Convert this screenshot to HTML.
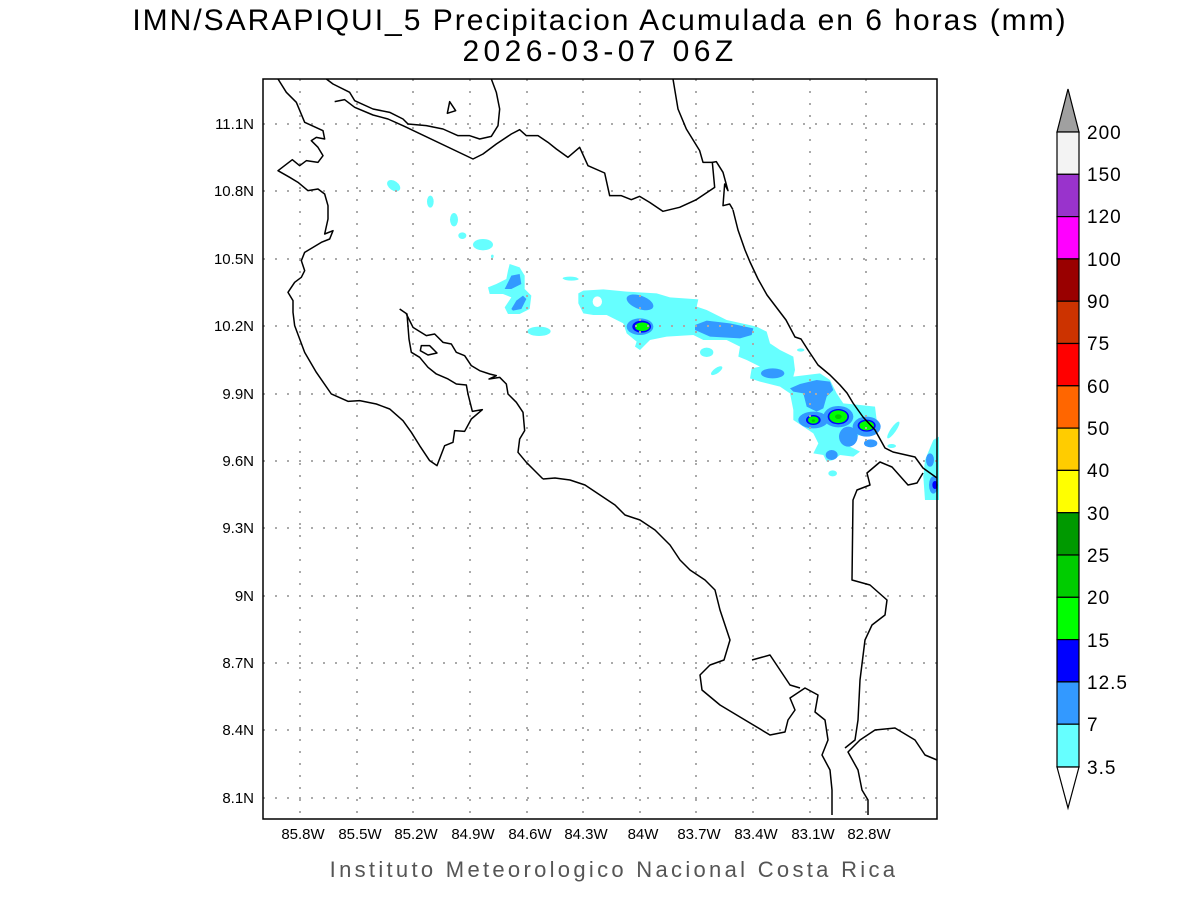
<!DOCTYPE html>
<html><head><meta charset="utf-8"><style>
html,body{margin:0;padding:0;background:#fff;}
svg{display:block;font-family:"Liberation Sans",sans-serif;}
</style></head><body>
<svg width="1200" height="900" viewBox="0 0 1200 900">
<rect width="1200" height="900" fill="#fff"/>
<text x="600" y="30" font-size="30" text-anchor="middle" fill="#000" letter-spacing="2">IMN/SARAPIQUI_5 Precipitacion Acumulada en 6 horas (mm)</text>
<text x="600" y="61" font-size="30" text-anchor="middle" fill="#000" letter-spacing="4.4">2026-03-07 06Z</text>

<g transform="translate(560,260) scale(0.33333)">
<polygon fill="#66ffff" points="55,100 70,92 130,88 200,95 290,100 330,112 415,118 410,140 440,150 500,180 590,200 620,215 630,250 660,270 700,290 705,330 700,350 740,345 780,340 810,360 830,400 850,430 900,435 945,440 950,480 955,500 935,520 900,520 870,560 900,575 880,590 840,585 820,600 800,605 790,585 760,580 775,550 760,520 730,500 700,480 700,450 690,400 660,380 600,365 570,355 575,325 600,320 560,300 535,290 540,260 500,240 430,240 400,225 320,230 270,240 240,270 225,260 230,245 200,220 190,190 140,165 100,165 70,160 55,130"/>
<ellipse cx="112" cy="125" rx="14" ry="16" fill="#fff"/>
<ellipse cx="30" cy="55" rx="22" ry="5" fill="#66ffff"/>
<ellipse cx="440" cy="277" rx="20" ry="14" fill="#66ffff"/>
<ellipse cx="470" cy="332" rx="20" ry="8" fill="#66ffff" transform="rotate(-35 470 332)"/>
<ellipse cx="722" cy="270" rx="11" ry="5" fill="#66ffff"/>
<ellipse cx="1000" cy="510" rx="8" ry="30" fill="#66ffff" transform="rotate(35 1000 510)"/>
<ellipse cx="995" cy="558" rx="13" ry="6" fill="#66ffff"/>
<ellipse cx="818" cy="640" rx="13" ry="9" fill="#66ffff"/>
<polygon fill="#66ffff" points="1095,600 1120,540 1137,530 1137,720 1095,720 1090,650"/>
<g fill="#3399ff">
<ellipse cx="240" cy="127" rx="42" ry="20" transform="rotate(20 240 127)"/>
<ellipse cx="240" cy="200" rx="40" ry="25"/>
<polygon points="405,195 440,182 510,190 580,205 575,225 540,235 450,230 405,210"/>
<ellipse cx="638" cy="340" rx="35" ry="15"/>
<polygon points="690,385 720,372 770,360 810,365 820,390 800,410 790,445 770,455 740,440 730,400 700,395"/>
<ellipse cx="760" cy="480" rx="45" ry="25"/>
<ellipse cx="835" cy="470" rx="45" ry="32"/>
<ellipse cx="920" cy="500" rx="42" ry="30"/>
<ellipse cx="865" cy="530" rx="28" ry="30"/>
<ellipse cx="932" cy="550" rx="20" ry="12"/>
<ellipse cx="815" cy="585" rx="18" ry="15"/>
<ellipse cx="1110" cy="600" rx="12" ry="20"/>
<ellipse cx="1120" cy="675" rx="13" ry="26"/>
</g>
<g fill="#0000ff">
<ellipse cx="245" cy="200" rx="28" ry="18"/>
<ellipse cx="760" cy="480" rx="22" ry="15"/>
<ellipse cx="835" cy="470" rx="32" ry="23"/>
<ellipse cx="920" cy="497" rx="27" ry="18"/>
<ellipse cx="1125" cy="675" rx="8" ry="12"/>
</g>
<g fill="#00ff00">
<ellipse cx="247" cy="200" rx="22" ry="13"/>
<ellipse cx="760" cy="480" rx="16" ry="11"/>
<ellipse cx="835" cy="470" rx="27" ry="19"/>
<ellipse cx="920" cy="497" rx="22" ry="14"/>
</g>
<ellipse cx="835" cy="470" rx="10" ry="7" fill="#00cc00"/>
<ellipse cx="760" cy="482" rx="5" ry="4" fill="#00cc00"/>
</g>

<g transform="translate(263,79) scale(0.33333)" fill="#66ffff">
<ellipse cx="392" cy="320" rx="22" ry="14" transform="rotate(35 392 320)"/>
<ellipse cx="502" cy="368" rx="10" ry="18"/>
<ellipse cx="573" cy="422" rx="12" ry="20"/>
<ellipse cx="598" cy="470" rx="12" ry="10"/>
<ellipse cx="660" cy="497" rx="30" ry="17"/>
<ellipse cx="688" cy="532" rx="4" ry="5"/>
<polygon points="740,555 770,565 785,590 785,630 805,650 800,690 770,705 735,705 725,685 745,655 720,645 680,645 675,625 700,615 730,600 735,575"/>
<ellipse cx="925" cy="600" rx="22" ry="5"/>
<ellipse cx="828" cy="757" rx="35" ry="14"/>
<polygon fill="#3399ff" points="725,630 745,590 770,585 775,615 745,630"/>
<polygon fill="#3399ff" points="745,690 760,665 780,650 790,660 775,690 750,695"/>
</g>

<g stroke="#aaa" stroke-width="2" stroke-dasharray="2,10">
<line x1="300" y1="79" x2="300" y2="819"/><line x1="357" y1="79" x2="357" y2="819"/><line x1="413" y1="79" x2="413" y2="819"/><line x1="470" y1="79" x2="470" y2="819"/><line x1="527" y1="79" x2="527" y2="819"/><line x1="583" y1="79" x2="583" y2="819"/><line x1="640" y1="79" x2="640" y2="819"/><line x1="696" y1="79" x2="696" y2="819"/><line x1="753" y1="79" x2="753" y2="819"/><line x1="810" y1="79" x2="810" y2="819"/><line x1="866" y1="79" x2="866" y2="819"/>
<line x1="263" y1="124" x2="937" y2="124"/><line x1="263" y1="191" x2="937" y2="191"/><line x1="263" y1="259" x2="937" y2="259"/><line x1="263" y1="326" x2="937" y2="326"/><line x1="263" y1="394" x2="937" y2="394"/><line x1="263" y1="461" x2="937" y2="461"/><line x1="263" y1="528" x2="937" y2="528"/><line x1="263" y1="596" x2="937" y2="596"/><line x1="263" y1="663" x2="937" y2="663"/><line x1="263" y1="730" x2="937" y2="730"/><line x1="263" y1="798" x2="937" y2="798"/>
</g>

<g transform="translate(263,79) scale(0.33333)" fill="none" stroke="#000" stroke-width="4.5" stroke-linejoin="round">
<polyline points="45,0 70,40 100,70 125,130 180,155 185,180 160,175 145,185 165,205 180,230 165,250 130,245 110,260 88,242 45,275 80,295 105,310 135,335 165,330 185,345 195,380 195,420 185,465 210,455 200,480 175,490 150,505 125,520 115,545 125,575 115,595 95,610 75,640 90,665 90,700 95,740 110,780 125,820 160,880 205,945 255,967 290,965 340,975 380,990 420,1025 445,1060 470,1100 500,1145 522,1160 545,1100 570,1090 575,1055 605,1057 625,1020 658,992 628,997 615,945 610,918 580,915 555,900 520,885 495,865 470,835 445,820 438,780 432,705 410,690"/>
<polyline points="430,705 450,745 490,770 515,765 540,790 565,795 580,820 605,830 625,860 650,875 680,885 700,890 678,900 710,895 730,915 735,945 760,970 780,1000 785,1055 770,1080 765,1120 790,1150 810,1170 840,1200"/>
<polygon points="475,800 500,800 522,822 495,828 472,815"/>
<polyline points="190,0 210,15 260,40 275,65 330,90 380,100 420,120 435,135 490,140 540,150 585,170 620,170 650,180 685,172 705,140 710,90 700,40 685,0"/>
<polygon points="560,68 578,95 553,103"/>
<polyline points="215,68 245,62 275,85 330,108 375,120 420,140 630,240 660,225 700,195 745,165 770,152 790,170 825,170 855,190 880,210 915,235 950,205 975,260 1025,282 1040,350 1075,350 1105,362 1130,352 1160,370 1200,397 1250,385 1300,362 1355,325 1348,250 1360,248 1380,280 1395,335 1385,315 1380,380 1400,375 1410,392"/>
<polyline points="1230,0 1245,90 1270,150 1310,215 1320,250 1350,250"/>
</g>
<g fill="none" stroke="#000" stroke-width="1.5" stroke-linejoin="round">
<polyline points="733,210 738,230 745,250 750,262 758,279 767,295 786,320 795,337 801,339 808,350 818,365 830,375 840,385 847,393 853,403 863,417 875,430 885,448 893,452 915,457 923,468 937,478"/>
<polyline points="923,473 917,483 908,485 892,467 880,462 867,473 870,485 857,490 853,500 852,580 870,585 887,600 885,615 872,625 865,640 860,680 858,720 855,740 845,748"/>
<polyline points="543,479 555,478 570,480 585,485 600,495 615,505 625,515 640,520 655,530 670,545 680,560 690,570 705,580 715,590 720,610 725,625 730,640 724,660 710,665 700,675 702,690 720,705 745,720 770,735 785,732 788,720 795,710 790,698 805,688 818,695 815,712 825,720 828,740 822,755 830,770 832,790 832,815"/>
<polyline points="752,660 770,655 780,670 790,685 800,688"/>
<polyline points="868,815 868,800 862,790 858,770 848,752 860,740 875,730 895,728 915,740 925,755 937,760"/>
</g>

<rect x="263" y="79" width="674" height="740" fill="none" stroke="#000" stroke-width="1.5"/>

<g font-size="15" fill="#000">
<g text-anchor="end">
<text x="254" y="129">11.1N</text><text x="254" y="196">10.8N</text><text x="254" y="264">10.5N</text><text x="254" y="331">10.2N</text><text x="254" y="399">9.9N</text><text x="254" y="466">9.6N</text><text x="254" y="533">9.3N</text><text x="254" y="601">9N</text><text x="254" y="668">8.7N</text><text x="254" y="735">8.4N</text><text x="254" y="803">8.1N</text>
</g>
<g text-anchor="middle">
<text x="303" y="839">85.8W</text><text x="360" y="839">85.5W</text><text x="416" y="839">85.2W</text><text x="473" y="839">84.9W</text><text x="530" y="839">84.6W</text><text x="586" y="839">84.3W</text><text x="643" y="839">84W</text><text x="699" y="839">83.7W</text><text x="756" y="839">83.4W</text><text x="813" y="839">83.1W</text><text x="869" y="839">82.8W</text>
</g>
</g>
<text x="614" y="877" font-size="22" text-anchor="middle" fill="#555" letter-spacing="3.3">Instituto Meteorologico Nacional Costa Rica</text>

<g stroke="#000" stroke-width="1.2">
<polygon points="1057,132 1068,89 1079,132" fill="#a0a0a0"/>
<rect x="1057" y="132" width="22" height="42.3" fill="#f3f3f3"/>
<rect x="1057" y="174.3" width="22" height="42.3" fill="#9933cc"/>
<rect x="1057" y="216.6" width="22" height="42.3" fill="#ff00ff"/>
<rect x="1057" y="258.9" width="22" height="42.3" fill="#990000"/>
<rect x="1057" y="301.2" width="22" height="42.3" fill="#cc3300"/>
<rect x="1057" y="343.5" width="22" height="42.3" fill="#ff0000"/>
<rect x="1057" y="385.8" width="22" height="42.3" fill="#ff6600"/>
<rect x="1057" y="428.1" width="22" height="42.3" fill="#ffcc00"/>
<rect x="1057" y="470.4" width="22" height="42.3" fill="#ffff00"/>
<rect x="1057" y="512.7" width="22" height="42.3" fill="#009900"/>
<rect x="1057" y="555" width="22" height="42.3" fill="#00cc00"/>
<rect x="1057" y="597.3" width="22" height="42.3" fill="#00ff00"/>
<rect x="1057" y="639.6" width="22" height="42.3" fill="#0000ff"/>
<rect x="1057" y="681.9" width="22" height="42.3" fill="#3399ff"/>
<rect x="1057" y="724.2" width="22" height="42.8" fill="#66ffff"/>
<polygon points="1057,767 1068,808 1079,767" fill="#fff"/>
</g>
<g font-size="19" fill="#000" letter-spacing="1">
<text x="1087" y="139">200</text><text x="1087" y="181">150</text><text x="1087" y="223">120</text><text x="1087" y="266">100</text><text x="1087" y="308">90</text><text x="1087" y="350">75</text><text x="1087" y="393">60</text><text x="1087" y="435">50</text><text x="1087" y="477">40</text><text x="1087" y="520">30</text><text x="1087" y="562">25</text><text x="1087" y="604">20</text><text x="1087" y="647">15</text><text x="1087" y="689">12.5</text><text x="1087" y="731">7</text><text x="1087" y="774">3.5</text>
</g>
</svg>
</body></html>
